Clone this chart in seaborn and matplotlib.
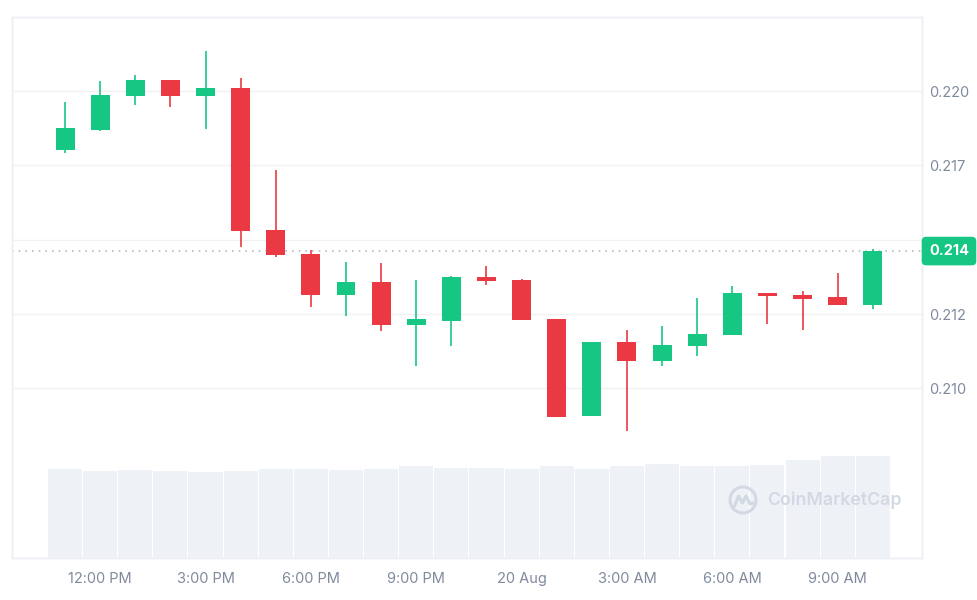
import matplotlib
matplotlib.use("Agg")
import matplotlib.pyplot as plt
import seaborn as sns
import numpy as np
import pandas as pd
from matplotlib.patches import Arc

# ================== DADOS ================== #
abertura = [0.21802, 0.21869, 0.21983, 0.22037, 0.21983, 0.22009, 0.21533, 0.21453,
            0.21314, 0.21357, 0.21213, 0.21228, 0.21374, 0.21365, 0.21235, 0.20908,
            0.21155, 0.21092, 0.21143, 0.21181, 0.21320, 0.21314, 0.21307, 0.21282]
maxima = [0.21962, 0.22034, 0.22054, 0.22037, 0.22134, 0.22043, 0.21734, 0.21466,
          0.21424, 0.21421, 0.21365, 0.21378, 0.21412, 0.21369, 0.21235, 0.21155,
          0.21197, 0.21210, 0.21303, 0.21345, 0.21320, 0.21328, 0.21387, 0.21470]
minima = [0.21791, 0.21866, 0.21953, 0.21945, 0.21873, 0.21475, 0.21441, 0.21273,
          0.21244, 0.21194, 0.21076, 0.21143, 0.21349, 0.21230, 0.20903, 0.20908,
          0.20856, 0.21076, 0.21109, 0.21181, 0.21218, 0.21198, 0.21282, 0.21268]
fechamento = [0.21875, 0.21987, 0.22037, 0.21983, 0.22009, 0.21529, 0.21449, 0.21314,
              0.21357, 0.21213, 0.21235, 0.21374, 0.21361, 0.21230, 0.20903, 0.21155,
              0.21092, 0.21146, 0.21184, 0.21320, 0.21311, 0.21302, 0.21282, 0.21462]
volume = [8.90, 8.70, 8.80, 8.70, 8.57, 8.70, 8.90, 8.90, 8.80, 8.90, 9.17, 9.03,
          9.03, 8.90, 9.17, 8.90, 9.17, 9.43, 9.17, 9.17, 9.30, 9.80, 10.20, 10.20]

ticks_x = [1, 4, 7, 10, 13, 16, 19, 22]
labels_x = ["12:00 PM", "3:00 PM", "6:00 PM", "9:00 PM", "20 Aug", "3:00 AM", "6:00 AM", "9:00 AM"]
ticks_y = [0.210, 0.2125, 0.215, 0.2175, 0.220]
labels_y = ["0.210", "0.212", "", "0.217", "0.220"]
preco_atual = 0.21462
label_preco = "0.214"

# ================== ESTILO ================== #
sns.set_theme(style="white")
plt.rcParams["font.family"] = ["Inter", "DejaVu Sans"]

VERDE = "#16c784"
VERMELHO = "#ea3943"
CINZA_TXT = "#808a9d"
CINZA_BORDA = "#eceff3"

df = pd.DataFrame({"idx": np.arange(len(abertura)), "open": abertura, "high": maxima,
                   "low": minima, "close": fechamento, "volume": volume})
df["cor"] = np.where(df["close"] >= df["open"], VERDE, VERMELHO)

fig = plt.figure(figsize=(9.78, 6.0), dpi=100)
ax_vol = fig.add_axes([12 / 978, 42 / 600, 910 / 978, 541 / 600])

# ================== VOLUME ================== #
sns.barplot(data=df, x="idx", y="volume", color="#eef1f5", saturation=1,
            width=0.97, edgecolor="none", ax=ax_vol)
ax_vol.set_ylim(0, 54.1)
ax_vol.set_yticks([])
ax_vol.set_ylabel("")
ax_vol.set_xlabel("")

# ================== CANDLES ================== #
ax = ax_vol.twinx()
ax.yaxis.grid(True, color="#f0f1f3", lw=1)
ax.set_axisbelow(True)

corpo_base = np.minimum(df["open"], df["close"])
corpo_alt = np.maximum(np.abs(df["close"] - df["open"]), 0.00003)
ax.vlines(df["idx"], df["low"], df["high"], colors=df["cor"], lw=1.2, zorder=3)
ax.bar(df["idx"], corpo_alt, bottom=corpo_base, width=0.54, color=df["cor"],
       edgecolor="none", zorder=4)

ax.axhline(preco_atual, color="#b8bcc4", lw=1.2, ls=(0, (1, 3)), zorder=2)

ax.set_ylim(0.20430, 0.22249)
ax.set_xlim(-1.51, 24.40)
ax.set_yticks(ticks_y)
ax.set_yticklabels(labels_y)
ax.tick_params(axis="y", length=0, pad=5, labelsize=10.5, labelcolor=CINZA_TXT)

ax_vol.set_xticks(ticks_x)
ax_vol.set_xticklabels(labels_x)
ax_vol.tick_params(axis="x", length=0, pad=10, labelsize=10.5, labelcolor=CINZA_TXT)

for a in (ax, ax_vol):
    for s in a.spines.values():
        s.set_color(CINZA_BORDA)
        s.set_linewidth(1)

# etiqueta do preço atual
ax.text(1.0077, preco_atual, label_preco, transform=ax.get_yaxis_transform(),
        ha="left", va="center", color="white", fontsize=10.5, fontweight="bold",
        bbox=dict(boxstyle="round,pad=0.5,rounding_size=0.3", fc=VERDE, ec="none"),
        clip_on=False, zorder=10)

# ================== MARCA D'ÁGUA ================== #
cor_wm = "#d3d9e4"
fig.text(767 / 978, 100 / 600, "CoinMarketCap", color=cor_wm, fontsize=12.8,
         fontweight="semibold", ha="left", va="center")
fig.add_artist(Arc((7.43, 1.0), 0.26, 0.26, theta1=-60, theta2=300, lw=2.2,
                   color=cor_wm, transform=fig.dpi_scale_trans))
xs = np.array([7.345, 7.385, 7.425, 7.46, 7.50, 7.53])
ys = np.array([0.94, 1.04, 0.97, 1.04, 0.96, 0.97])
fig.add_artist(plt.Line2D(xs, ys, lw=2.2, color=cor_wm, transform=fig.dpi_scale_trans,
                          solid_joinstyle="round", solid_capstyle="round"))

fig.savefig("out.png", dpi=100)
